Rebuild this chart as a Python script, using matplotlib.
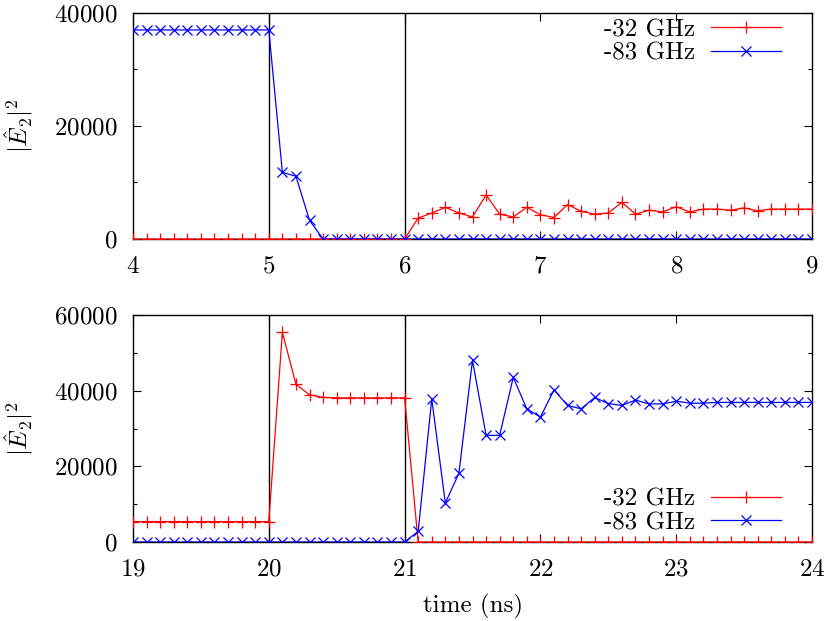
import numpy as np
import matplotlib
matplotlib.use("Agg")
import matplotlib.pyplot as plt
from matplotlib.ticker import MultipleLocator

plt.rcParams['font.family'] = ['cmr10', 'DejaVu Serif']
plt.rcParams['mathtext.fontset'] = 'cm'
plt.rcParams['axes.formatter.use_mathtext'] = True
plt.rcParams['axes.unicode_minus'] = False

# ---- data ----
t_top = np.round(np.linspace(4.0, 9.0, 51), 1)
t_bot = np.round(np.linspace(19.0, 24.0, 51), 1)

top_32 = [0] * 21 + [3700, 4600, 5600, 4600, 3900, 7800, 4400, 3900, 5600, 4300,
                     3800, 6100, 4900, 4400, 4600, 6500, 4400, 5100, 4800, 5700,
                     4800, 5300, 5300, 5100, 5500, 5000, 5300, 5300, 5300, 5300]
top_83 = [37000] * 11 + [11800, 11100, 3300] + [0] * 37

bot_32 = [5400] * 11 + [55400, 41700, 38900, 38200] + [38100] * 6 + [0] * 30
bot_83 = [0] * 21 + [2800, 37800, 10300, 18200, 48000, 28200, 28200, 43500, 35200, 33000,
                     40200, 36100, 35200, 38200, 36600, 36100, 37500, 36500, 36500, 37200,
                     36700, 36700, 36900, 36900, 36900, 36900, 36900, 36900, 36900, 36900]

switch_top = [5, 6]
switch_bot = [20, 21]
labels = ['-32 GHz', '-83 GHz']
ylim_top = (0, 40000)
ylim_bot = (0, 60000)

FS = 18
fig = plt.figure(figsize=(8.3, 6.21), dpi=100)
W, H = 830, 621
ax1 = fig.add_axes([133 / W, 1 - 239 / H, 679 / W, 226 / H])
ax2 = fig.add_axes([133 / W, 1 - 542 / H, 679 / W, 227 / H])

def style(ax, t, y32, y83, sw, xlim, ylim, yticks, legloc, anchor):
    for s in sw:
        ax.axvline(s, color='black', lw=1.0, zorder=1)
    ax.plot(t, y32, color='#ff0000', lw=0.9, marker='+', ms=8, mew=0.9,
            label=labels[0], zorder=3)
    ax.plot(t, y83, color='#0000ff', lw=0.9, marker='x', ms=7, mew=0.9,
            label=labels[1], zorder=4)
    ax.set_xlim(*xlim)
    ax.set_ylim(*ylim)
    ax.set_xticks(np.arange(xlim[0], xlim[1] + 1, 1))
    ax.set_yticks(yticks)
    ax.yaxis.set_minor_locator(MultipleLocator(10000))
    ax.tick_params(which='both', direction='in', top=True, right=True,
                   labelsize=FS, width=0.8)
    ax.tick_params(which='major', length=6)
    ax.tick_params(which='minor', length=3)
    ax.tick_params(axis='x', pad=12)
    ax.tick_params(axis='y', pad=11)
    for sp in ax.spines.values():
        sp.set_linewidth(1.0)
    for lab in ax.get_yticklabels():
        lab.set_fontsize(FS)
    ax.set_ylabel(r'$|\hat{E}_2|^2$', fontsize=FS)
    ax.yaxis.set_label_coords(-0.169, 0.5)
    ax.yaxis.label.set_va('center')
    leg = ax.legend(loc=legloc, bbox_to_anchor=anchor, frameon=False,
                    markerfirst=False, fontsize=FS, handlelength=2.8,
                    handletextpad=0.67, labelspacing=0.05, borderaxespad=0,
                    borderpad=0)
    return leg

style(ax1, t_top, top_32, top_83, switch_top, (4, 9), ylim_top,
      [0, 20000, 40000], 'upper right', (0.955, 0.975))
style(ax2, t_bot, bot_32, bot_83, switch_bot, (19, 24), ylim_bot,
      [0, 20000, 40000, 60000], 'lower right', (0.955, 0.035))

ax2.set_xlabel('time (ns)', fontsize=FS)
ax2.xaxis.set_label_coords(0.5, -0.286)
ax2.xaxis.label.set_va('center')

fig.savefig('out.png', dpi=100)
